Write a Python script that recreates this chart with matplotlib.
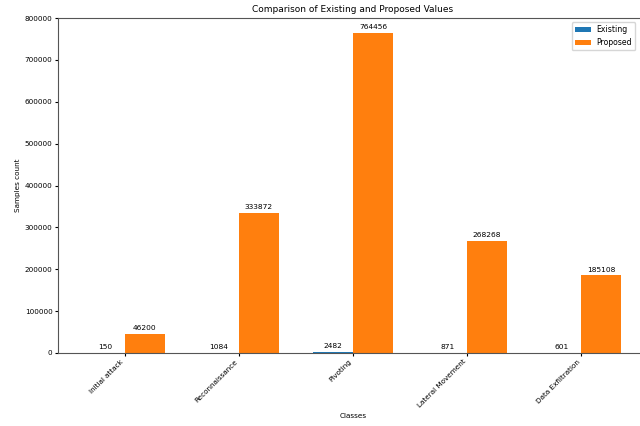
import numpy as np
import matplotlib
matplotlib.use("Agg")
import matplotlib.pyplot as plt

classes = ["Initial attack", "Reconnaissance", "Pivoting", "Lateral Movement", "Data Exfiltration"]
existing = [150, 1084, 2482, 871, 601]
proposed = [46200, 333872, 764456, 268268, 185108]

plt.rcParams["font.size"] = 5.2
fig = plt.figure(figsize=(6.4, 4.26), dpi=100)
ax = fig.add_axes([0.0906, 0.1714, 0.9219, 0.7863])

x = np.arange(len(classes))
w = 0.35
b1 = ax.bar(x - w / 2, existing, w, label="Existing", color="tab:blue")
b2 = ax.bar(x + w / 2, proposed, w, label="Proposed", color="tab:orange")
ax.bar_label(b1, padding=2, fontsize=5.4)
ax.bar_label(b2, padding=2, fontsize=5.4)

ax.set_title("Comparison of Existing and Proposed Values", fontsize=6.5, pad=4)
ax.set_xlabel("Classes", labelpad=3)
ax.set_ylabel("Samples count", labelpad=3)
ax.set_xticks(x)
ax.set_xticklabels(classes, rotation=45, ha="right")
ax.tick_params(length=2.5, pad=1.5)
ax.set_ylim(0, 800000)
ax.ticklabel_format(axis="y", style="plain")
for s in ax.spines.values():
    s.set_color("#555555")
# original was cropped on the right; keep the legend inside the canvas
ax.legend(loc="upper right", bbox_to_anchor=(0.999, 0.957), bbox_transform=fig.transFigure,
          fontsize=5.6)

fig.savefig("out.png", dpi=100)
